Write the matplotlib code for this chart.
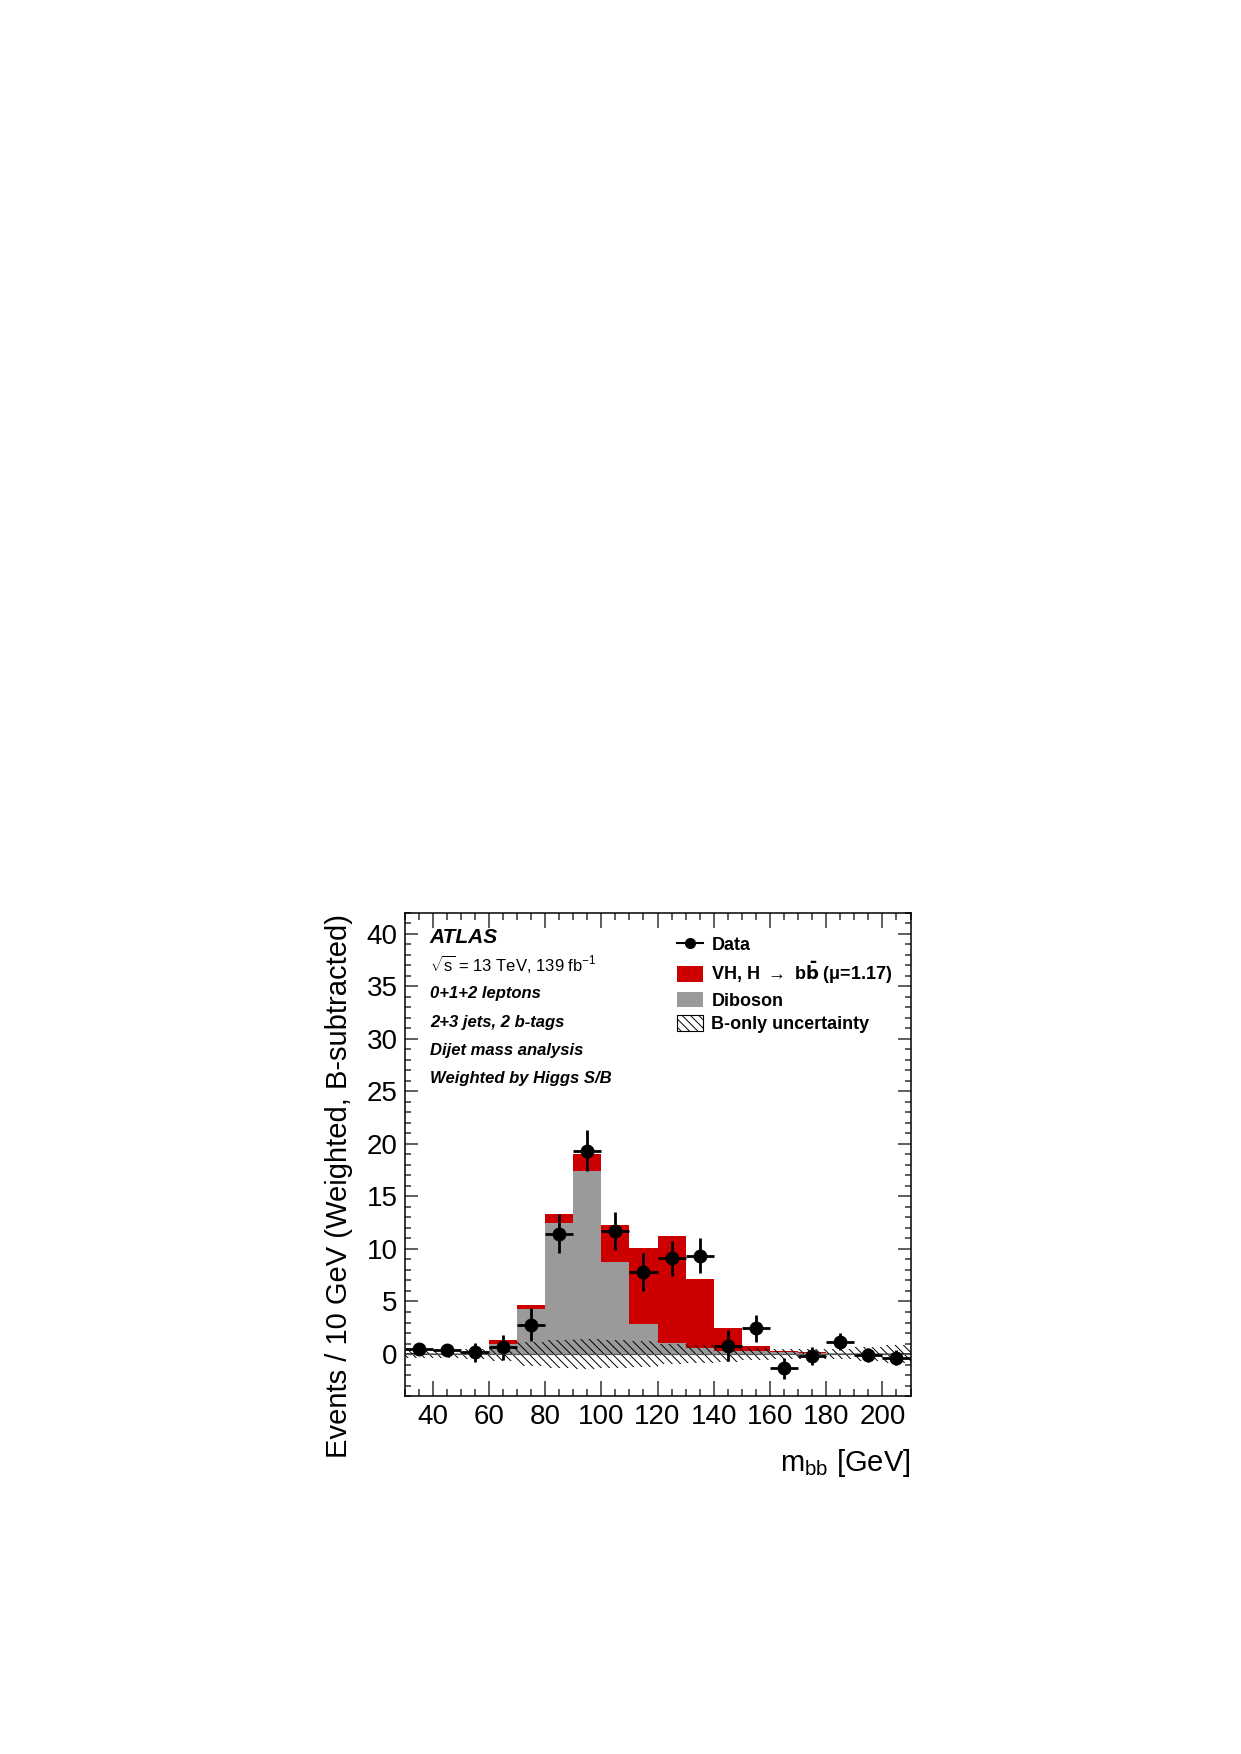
import matplotlib
matplotlib.use("Agg")
import matplotlib.pyplot as plt
from matplotlib.patches import Patch
from matplotlib.lines import Line2D
from matplotlib.ticker import MultipleLocator

plt.rcParams['font.family'] = ['Liberation Sans', 'DejaVu Sans']
plt.rcParams['mathtext.fontset'] = 'custom'
plt.rcParams['mathtext.rm'] = 'Liberation Sans'
plt.rcParams['mathtext.it'] = 'Liberation Sans:italic'
plt.rcParams['mathtext.bf'] = 'Liberation Sans:bold'
plt.rcParams['mathtext.default'] = 'regular'
plt.rcParams['hatch.linewidth'] = 0.7

# ---- data ----
bin_edges_low = [30, 40, 50, 60, 70, 80, 90, 100, 110, 120, 130, 140, 150, 160, 170, 180, 190, 200]
bin_width = 10
diboson = [0.05, 0.05, 0.1, 1.0, 4.3, 12.5, 17.45, 8.8, 2.9, 1.05, 0.6, 0.3, 0.25, 0.15, 0.1, 0.08, 0.05, 0.05]
vh_signal = [0.02, 0.03, 0.1, 0.35, 0.4, 0.8, 1.55, 3.45, 7.15, 10.2, 6.55, 2.15, 0.5, 0.15, 0.1, 0.05, 0.03, 0.02]
bkg_unc = [0.35, 0.35, 0.5, 0.7, 1.1, 1.35, 1.45, 1.35, 1.2, 0.95, 0.85, 0.75, 0.6, 0.5, 0.45, 0.5, 0.7, 0.85]
data_y = [0.44, 0.36, 0.15, 0.62, 2.8, 11.45, 19.35, 11.7, 7.8, 9.1, 9.35, 0.8, 2.45, -1.38, -0.18, 1.16, -0.1, -0.36]
data_err = [0.3, 0.35, 0.9, 1.2, 1.6, 1.85, 1.95, 1.8, 1.8, 1.65, 1.65, 1.45, 1.3, 1.0, 0.85, 0.8, 0.65, 0.7]

x_ticks = [40, 60, 80, 100, 120, 140, 160, 180, 200]
y_ticks = [0, 5, 10, 15, 20, 25, 30, 35, 40]

info_lines = [
    ("ATLAS", 15, 'bold', 'italic'),
    (r"$\sqrt{s}$ = 13 TeV, 139 fb$^{-1}$", 12, 'normal', 'normal'),
    ("0+1+2 leptons", 12, 'bold', 'italic'),
    ("2+3 jets, 2 b-tags", 12, 'bold', 'italic'),
    ("Dijet mass analysis", 12, 'bold', 'italic'),
    ("Weighted by Higgs S/B", 12, 'bold', 'italic'),
]

centers = [lo + bin_width / 2 for lo in bin_edges_low]

red = '#cc0000'
grey = '#9a9a9a'

fig = plt.figure(figsize=(12.41, 17.54), dpi=100)
ax = fig.add_axes([0.326, 0.2041, 0.4077, 0.2754])

ax.bar(centers, diboson, width=bin_width, color=grey, linewidth=0, zorder=1)
ax.bar(centers, vh_signal, width=bin_width, bottom=diboson, color=red, linewidth=0, zorder=1)
ax.bar(centers, [2 * u for u in bkg_unc], width=bin_width, bottom=[-u for u in bkg_unc],
       fill=False, hatch='\\\\\\\\', edgecolor='black', linewidth=0, zorder=2)
ax.axhline(0, color='#555555', linewidth=0.8, zorder=2)

ax.errorbar(centers, data_y, yerr=data_err, xerr=bin_width / 2, fmt='o', color='black',
            markersize=9, elinewidth=2, capsize=0, zorder=5)

ax.set_xlim(30, 210)
ax.set_ylim(-4, 42)
ax.set_xticks(x_ticks)
ax.set_yticks(y_ticks)
ax.xaxis.set_minor_locator(MultipleLocator(5))
ax.yaxis.set_minor_locator(MultipleLocator(1))
ax.tick_params(which='both', direction='in', top=True, right=True, width=1.1, color='#333333')
ax.tick_params(axis='x', which='major', length=11, labelsize=20, pad=6)
ax.tick_params(axis='x', which='minor', length=5)
ax.tick_params(axis='y', which='major', length=9.5, labelsize=20, pad=5)
ax.tick_params(axis='y', which='minor', length=4.5)
for sp in ax.spines.values():
    sp.set_linewidth(1.1)

ax.set_xlabel(r"m$_{\rm bb}$ [GeV]", fontsize=21, loc='right')
ax.xaxis.set_label_coords(1.0, -0.105)
ax.set_ylabel("Events / 10 GeV (Weighted, B-subtracted)", fontsize=21)
ax.yaxis.set_label_coords(-0.102, 0.435)

ys = [0.938, 0.880, 0.824, 0.764, 0.706, 0.648]
for (txt, fs, fw, st), yy in zip(info_lines, ys):
    ax.text(0.050, yy, txt, transform=ax.transAxes, fontsize=fs, fontweight=fw,
            fontstyle=st, va='baseline', ha='left')

handles = [
    Line2D([0], [0], color='black', marker='o', markersize=7, linewidth=1.5),
    Patch(facecolor=red, edgecolor='none'),
    Patch(facecolor=grey, edgecolor='none'),
    Patch(facecolor='white', edgecolor='black', hatch='\\\\\\\\', linewidth=0.8),
]
labels = ["Data",
          r"VH, H $\rightarrow$ b$\mathbf{\bar{b}}$ ($\mu$=1.17)",
          "Diboson",
          "B-only uncertainty"]
leg = ax.legend(handles, labels, loc='upper left', bbox_to_anchor=(0.5385, 0.953),
                frameon=False, borderpad=0, borderaxespad=0, handlelength=1.45,
                handleheight=0.95, handletextpad=0.45, labelspacing=0.32,
                prop={'size': 13, 'weight': 'bold'})
leg.get_texts()[1].set_math_fontfamily('dejavusans')

fig.savefig("out.png", dpi=100)
